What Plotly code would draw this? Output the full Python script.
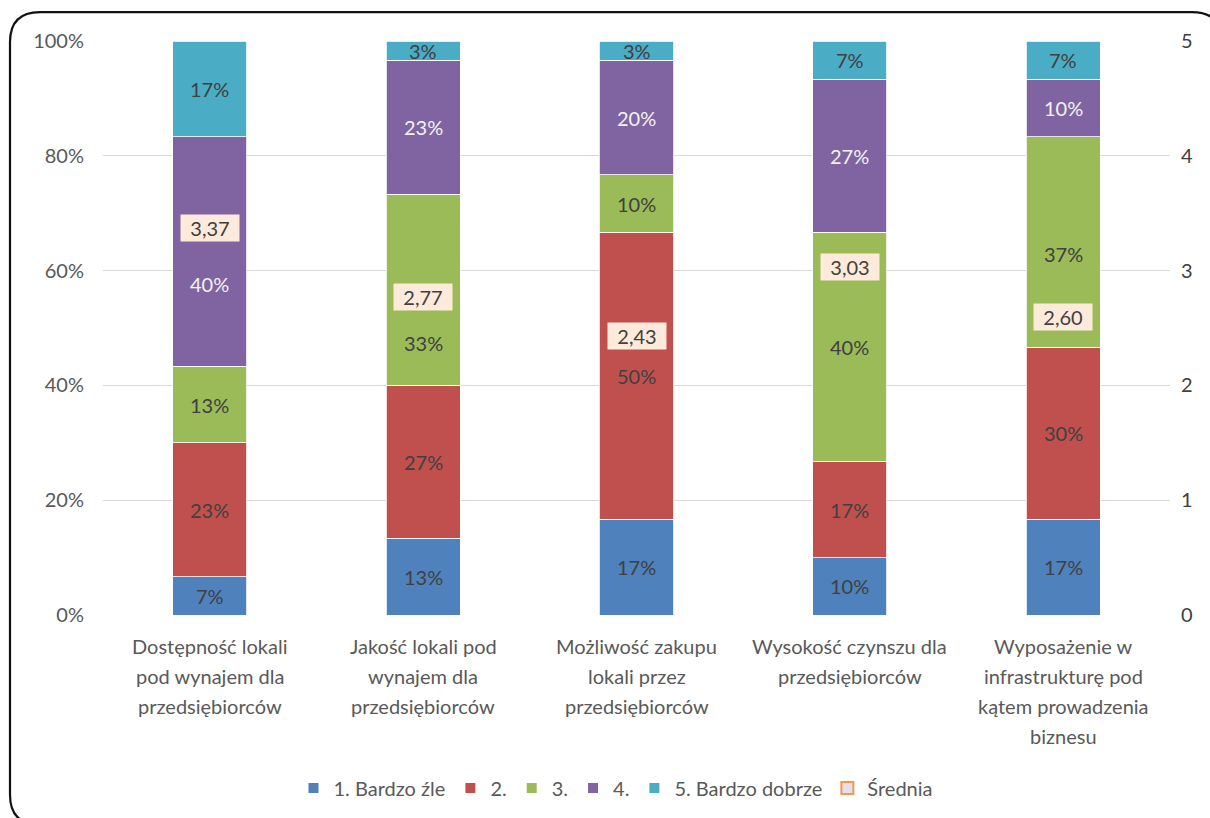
import plotly.graph_objects as go

# Survey answers (30 respondents per item), rating scale 1..5
categories = [
    "Dostępność lokali pod wynajem dla przedsiębiorców",
    "Jakość lokali pod wynajem dla przedsiębiorców",
    "Możliwość zakupu lokali przez przedsiębiorców",
    "Wysokość czynszu dla przedsiębiorców",
    "Wyposażenie w infrastrukturę pod kątem prowadzenia biznesu",
]
category_lines = [
    ["Dostępność lokali", "pod wynajem dla", "przedsiębiorców"],
    ["Jakość lokali pod", "wynajem dla", "przedsiębiorców"],
    ["Możliwość zakupu", "lokali przez", "przedsiębiorców"],
    ["Wysokość czynszu dla", "przedsiębiorców"],
    ["Wyposażenie w", "infrastrukturę pod", "kątem prowadzenia", "biznesu"],
]
respondents = 30
rating_1 = [2, 4, 5, 3, 5]     # 1. Bardzo źle
rating_2 = [7, 8, 15, 5, 9]    # 2.
rating_3 = [4, 10, 3, 12, 11]  # 3.
rating_4 = [12, 7, 6, 8, 3]    # 4.
rating_5 = [5, 1, 1, 2, 2]     # 5. Bardzo dobrze
mean_score = [3.37, 2.77, 2.43, 3.03, 2.60]

series_names = ["1. Bardzo źle", "2.", "3.", "4.", "5. Bardzo dobrze"]
series_counts = [rating_1, rating_2, rating_3, rating_4, rating_5]
series_colors = ["#4F81BD", "#C0504D", "#9BBB59", "#8064A2", "#4BACC6"]
label_colors = ["#404040", "#404040", "#404040", "#F2F2F2", "#404040"]

# pixel nudges for segment labels that would sit under the average box
# key: (series index, category index) -> vertical shift in px
label_nudge = {(3, 0): -33, (2, 1): -53, (2, 4): -12}

FONT = "Lato, 'Open Sans', sans-serif"
GREY = "#595959"
FS = 20

fig = go.Figure()
base = [0.0] * len(categories)
for si, (name, counts, color, tcolor) in enumerate(
        zip(series_names, series_counts, series_colors, label_colors)):
    share = [c / respondents * 100 for c in counts]
    fig.add_trace(go.Bar(
        name=name, x=categories, y=share,
        marker=dict(color=color, line=dict(color="white", width=0.8)),
        width=0.347, hoverinfo="skip",
    ))
    # percentage label centred on each segment
    for ci, (cat, s) in enumerate(zip(categories, share)):
        fig.add_annotation(
            x=cat, y=base[ci] + s / 2, text=f"{s:.0f}%", showarrow=False,
            yshift=label_nudge.get((si, ci), 0),
            font=dict(size=FS, color=tcolor, family=FONT),
        )
        base[ci] += s

# Average score on the secondary axis; values shown as boxed labels
fig.add_trace(go.Scatter(
    name="Średnia", x=categories, y=mean_score, yaxis="y2", mode="markers",
    marker=dict(symbol="square", size=10, color="#E4DFEC",
                line=dict(color="#F79646", width=2)),
    hoverinfo="skip",
))
for cat, m in zip(categories, mean_score):
    fig.add_annotation(
        x=cat, y=m, yref="y2", text=f"{m:.2f}".replace(".", ","),
        showarrow=False, bgcolor="#FDEADA", borderpad=1,
        width=56, height=24,
        font=dict(size=FS, color="#404040", family=FONT),
    )

# Category captions under the bars, one line at a time (30 px leading)
for cat, lines in zip(categories, category_lines):
    for li, line in enumerate(lines):
        fig.add_annotation(
            x=cat, y=0, yref="paper", yanchor="middle", showarrow=False,
            yshift=-31 - 30 * li, text=line,
            font=dict(size=FS, color=GREY, family=FONT),
        )

# Rounded frame around the chart, built in pixel units and mapped to paper
L, R, T, B = 103, 1170, 41, 616
W, H = R - L, B - T


def px(x):
    return (x - L) / W


def py(y):
    return (B - y) / H


x0, y0, x1, y1, r = 10, 12, 1222, 826, 30
frame = (
    f"M {px(x0 + r)},{py(y0)} L {px(x1 - r)},{py(y0)} "
    f"Q {px(x1)},{py(y0)} {px(x1)},{py(y0 + r)} "
    f"L {px(x1)},{py(y1 - r)} Q {px(x1)},{py(y1)} {px(x1 - r)},{py(y1)} "
    f"L {px(x0 + r)},{py(y1)} Q {px(x0)},{py(y1)} {px(x0)},{py(y1 - r)} "
    f"L {px(x0)},{py(y0 + r)} Q {px(x0)},{py(y0)} {px(x0 + r)},{py(y0)} Z"
)
fig.add_shape(type="path", path=frame, xref="paper", yref="paper",
              line=dict(color="#111111", width=2.2), layer="above")

fig.update_layout(
    barmode="stack",
    width=1210, height=818,
    margin=dict(l=L, r=1210 - R, t=T, b=818 - B),
    paper_bgcolor="white", plot_bgcolor="white",
    font=dict(family=FONT, size=FS, color=GREY),
    showlegend=True,
    legend=dict(orientation="h", x=px(616), xanchor="center", y=py(788),
                yanchor="middle", traceorder="normal",
                font=dict(size=FS, color=GREY, family=FONT),
                itemsizing="constant"),
    xaxis=dict(showgrid=False, showline=False, ticks="",
               showticklabels=False),
    yaxis=dict(range=[0, 100], dtick=20, ticksuffix="%", showgrid=True,
               gridcolor="#D9D9D9", gridwidth=1, zeroline=False,
               showline=False, ticks="", ticklabelstandoff=18,
               tickfont=dict(size=FS, color=GREY, family=FONT)),
    yaxis2=dict(range=[0, 5], dtick=1, overlaying="y", side="right",
                showgrid=False, zeroline=False, showline=False, ticks="",
                ticklabelstandoff=10,
                tickfont=dict(size=FS, color="#404040", family=FONT)),
)

fig.write_html("out.html")
